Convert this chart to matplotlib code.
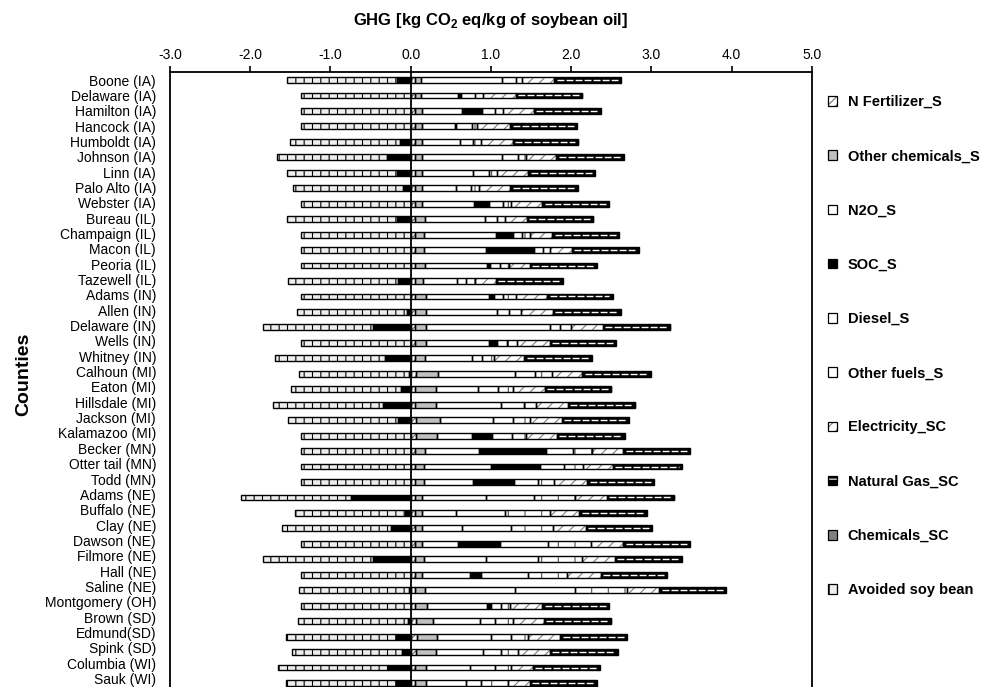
import numpy as np
import matplotlib
matplotlib.use('Agg')
import matplotlib.pyplot as plt
import matplotlib.transforms as mtransforms
from matplotlib.patches import Patch

plt.rcParams['font.family'] = ['Liberation Sans', 'DejaVu Sans']
plt.rcParams['mathtext.fontset'] = 'custom'
plt.rcParams['mathtext.rm'] = 'Liberation Sans'
plt.rcParams['mathtext.bf'] = 'Liberation Sans:bold'
plt.rcParams['hatch.linewidth'] = 0.8

counties = ['Boone (IA)', 'Delaware (IA)', 'Hamilton (IA)', 'Hancock (IA)', 'Humboldt (IA)',
            'Johnson (IA)', 'Linn (IA)', 'Palo Alto (IA)', 'Webster (IA)', 'Bureau (IL)',
            'Champaign (IL)', 'Macon (IL)', 'Peoria (IL)', 'Tazewell (IL)', 'Adams (IN)',
            'Allen (IN)', 'Delaware (IN)', 'Wells (IN)', 'Whitney (IN)', 'Calhoun (MI)',
            'Eaton (MI)', 'Hillsdale (MI)', 'Jackson (MI)', 'Kalamazoo (MI)', 'Becker (MN)',
            'Otter tail (MN)', 'Todd (MN)', 'Adams (NE)', 'Buffalo (NE)', 'Clay (NE)',
            'Dawson (NE)', 'Filmore (NE)', 'Hall (NE)', 'Saline (NE)', 'Montgomery (OH)',
            'Brown (SD)', 'Edmund(SD)', 'Spink (SD)', 'Columbia (WI)', 'Sauk (WI)']

# kg CO2 eq / kg soybean oil
n_fert = [0.05, 0.05, 0.05, 0.05, 0.05, 0.05, 0.05, 0.05, 0.05, 0.05,
          0.05, 0.05, 0.05, 0.05, 0.05, 0.05, 0.05, 0.05, 0.05, 0.06,
          0.05, 0.05, 0.06, 0.06, 0.05, 0.05, 0.05, 0.05, 0.05, 0.05,
          0.05, 0.05, 0.05, 0.05, 0.05, 0.07, 0.08, 0.07, 0.05, 0.05]
other_chem = [0.08, 0.08, 0.09, 0.09, 0.09, 0.09, 0.09, 0.09, 0.09, 0.13,
              0.11, 0.11, 0.13, 0.10, 0.14, 0.14, 0.14, 0.14, 0.13, 0.28,
              0.27, 0.27, 0.30, 0.265, 0.13, 0.11, 0.11, 0.095, 0.095, 0.095,
              0.095, 0.11, 0.095, 0.13, 0.155, 0.205, 0.245, 0.245, 0.14, 0.14]
n2o = [1.01, 0.46, 0.50, 0.41, 0.47, 1.00, 0.63, 0.42, 0.65, 0.745,
       0.905, 0.78, 0.77, 0.425, 0.78, 0.89, 1.55, 0.78, 0.58, 0.955,
       0.52, 0.81, 0.665, 0.435, 0.665, 0.84, 0.615, 0.79, 0.42, 0.49,
       0.45, 0.78, 0.595, 1.12, 0.74, 0.59, 0.67, 0.58, 0.55, 0.50]
soc = [-0.17, 0.04, 0.25, 0.02, -0.14, -0.30, -0.17, -0.10, 0.19, -0.17,
       0.21, 0.60, 0.04, -0.16, 0.07, -0.05, -0.47, 0.11, -0.32, -0.02,
       -0.12, -0.35, -0.16, 0.25, 0.84, 0.61, 0.51, -0.75, -0.07, -0.24,
       0.52, -0.47, 0.13, -0.02, 0.06, -0.04, -0.19, -0.11, -0.28, -0.19]
diesel = [0.17, 0.17, 0.165, 0.19, 0.17, 0.195, 0.21, 0.19, 0.17, 0.145,
          0.11, 0.105, 0.12, 0.115, 0.115, 0.15, 0.125, 0.125, 0.125, 0.255,
          0.25, 0.28, 0.255, 0.25, 0.34, 0.295, 0.305, 0.60, 0.61, 0.61,
          0.60, 0.65, 0.595, 0.75, 0.125, 0.185, 0.25, 0.225, 0.31, 0.18]
other_fuels = [0.08, 0.10, 0.10, 0.07, 0.09, 0.10, 0.09, 0.095, 0.10, 0.105,
               0.10, 0.085, 0.11, 0.11, 0.155, 0.14, 0.135, 0.125, 0.155, 0.21,
               0.185, 0.155, 0.205, 0.18, 0.23, 0.24, 0.195, 0.51, 0.56, 0.53,
               0.53, 0.54, 0.48, 0.64, 0.11, 0.22, 0.22, 0.22, 0.195, 0.345]
electricity = [0.40, 0.41, 0.38, 0.41, 0.40, 0.38, 0.395, 0.395, 0.39, 0.27,
               0.28, 0.28, 0.26, 0.26, 0.39, 0.40, 0.395, 0.40, 0.375, 0.38,
               0.395, 0.395, 0.395, 0.38, 0.395, 0.375, 0.415, 0.40, 0.365, 0.405,
               0.405, 0.415, 0.42, 0.405, 0.40, 0.39, 0.40, 0.395, 0.275, 0.27]
natural_gas = [0.82, 0.82, 0.82, 0.82, 0.81, 0.83, 0.82, 0.835, 0.82, 0.82,
               0.82, 0.82, 0.83, 0.83, 0.805, 0.835, 0.83, 0.82, 0.83, 0.84,
               0.82, 0.83, 0.83, 0.84, 0.82, 0.85, 0.82, 0.83, 0.83, 0.82,
               0.82, 0.82, 0.82, 0.82, 0.82, 0.83, 0.82, 0.84, 0.83, 0.82]
chem_sc = [0.01] * 40
avoided = [-1.37] * 40

labels = ['N Fertilizer_S', 'Other chemicals_S', 'N2O_S', 'SOC_S', 'Diesel_S',
          'Other fuels_S', 'Electricity_SC', 'Natural Gas_SC', 'Chemicals_SC', 'Avoided soy bean']
values = [n_fert, other_chem, n2o, soc, diesel, other_fuels, electricity,
          natural_gas, chem_sc, avoided]
# face, hatch, hatch colour
styles = [('white', '////', '#707070'),
          ('#c0c0c0', None, '#c0c0c0'),
          ('white', None, 'white'),
          ('black', None, 'black'),
          ('white', None, 'white'),
          ('white', '|', '#505050'),
          ('white', '///', '#808080'),
          ('black', None, 'black'),
          ('#808080', None, '#808080'),
          ('#eeeeee', '||', 'black')]

fig = plt.figure(figsize=(9.98, 6.87), dpi=100)
ax = fig.add_axes([170 / 998, 0.0, 642 / 998, 1 - 72 / 687])

y = np.arange(len(counties))
h = 0.38
pos = np.zeros(len(counties))
neg = np.zeros(len(counties))

for name, vals, (face, hatch, hcol) in zip(labels, values, styles):
    v = np.array(vals, dtype=float)
    left = np.where(v >= 0, pos, neg)
    ax.barh(y, v, left=left, height=h, color=face, edgecolor=hcol, hatch=hatch,
            linewidth=0, zorder=2)
    ax.barh(y, v, left=left, height=h, fill=False, edgecolor='black',
            linewidth=1.0, zorder=3)
    if name == 'Natural Gas_SC':
        ax.hlines(y, left + 0.03, left + v - 0.03, colors='white', linewidth=1.0,
                  linestyles=(0, (5, 1.5)), zorder=4)
    pos = pos + np.where(v >= 0, v, 0)
    neg = neg + np.where(v < 0, v, 0)

ax.axvline(0, color='black', linewidth=1.3, zorder=5)

ax.set_xlim(-3, 5)
ax.set_ylim(39.26, -0.52)
ax.xaxis.tick_top()
ax.xaxis.set_label_position('top')
ax.set_xticks(np.arange(-3, 6, 1))
ax.set_xticklabels(['%.1f' % t for t in np.arange(-3, 6, 1)], fontsize=10)
ax.tick_params(axis='x', direction='out', length=4, width=1.2, pad=3)
ax.set_yticks(y)
ax.set_yticklabels(counties, fontsize=10)
ax.tick_params(axis='y', length=0, pad=10)
# in the original the labels drift slightly upward relative to the bars
for i, lab in enumerate(ax.get_yticklabels()):
    shift = mtransforms.ScaledTranslation(0, (4.5 * i / 39) / 100, fig.dpi_scale_trans)
    lab.set_transform(lab.get_transform() + shift)
ax.set_xlabel(r'GHG [kg CO$_\mathbf{2}$ eq/kg of soybean oil]', fontsize=12,
              fontweight='bold', labelpad=17)
ax.spines['bottom'].set_visible(False)
for s in ['left', 'top', 'right']:
    ax.spines[s].set_linewidth(1.3)

fig.text(0.0235, 1 - 374 / 687, 'Counties', rotation=90, fontsize=14,
         fontweight='bold', ha='center', va='center')

# legend swatches: pattern patch plus a black outline on top
handles = []
for name, (f, hh, hc) in zip(labels, styles):
    if name == 'Natural Gas_SC':
        fill = Patch(facecolor='black', edgecolor='white', hatch='--', linewidth=0)
    else:
        fill = Patch(facecolor=f, edgecolor=hc, hatch=hh, linewidth=0)
    handles.append((fill, Patch(fill=False, edgecolor='black', linewidth=0.9)))
fig.legend(handles, labels, loc='upper left', bbox_to_anchor=(828 / 998, 1 - 95 / 687),
           frameon=False, prop={'size': 10.5, 'weight': 'bold'}, labelspacing=2.76,
           handlelength=0.65, handleheight=0.65, handletextpad=0.7, borderpad=0,
           borderaxespad=0)

fig.savefig('out.png', dpi=100)
